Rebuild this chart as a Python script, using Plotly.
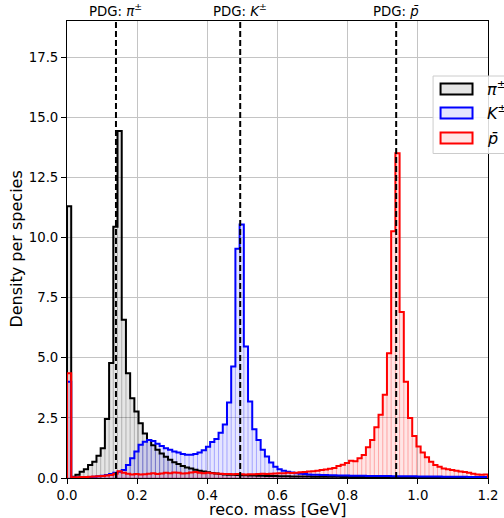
import numpy as np
import plotly.graph_objects as go

# ---- data (density per species, 100 bins over 0..1.2 GeV) ----
bin_range = (0.0, 1.2)
n_bins = 100

pion = [11.3, 0.05, 0.13, 0.26, 0.36, 0.54, 0.68, 0.92, 1.24, 2.45,
        4.78, 10.45, 14.43, 6.58, 4.36, 3.32, 2.76, 2.28, 1.85, 1.58,
        1.36, 1.17, 1.02, 0.88, 0.76, 0.66, 0.58, 0.50, 0.44, 0.39,
        0.34, 0.30, 0.27, 0.24, 0.21, 0.19, 0.17, 0.15, 0.14, 0.13,
        0.12, 0.11, 0.11, 0.10, 0.10, 0.09, 0.09, 0.08, 0.08, 0.08,
        0.07, 0.07, 0.07, 0.06, 0.06, 0.06, 0.06, 0.06, 0.05, 0.05,
        0.05, 0.05, 0.05, 0.05, 0.05, 0.04, 0.04, 0.04, 0.04, 0.04,
        0.04, 0.04, 0.04, 0.04, 0.03, 0.03, 0.03, 0.03, 0.03, 0.03,
        0.03, 0.03, 0.03, 0.03, 0.03, 0.03, 0.02, 0.02, 0.02, 0.02,
        0.02, 0.02, 0.02, 0.02, 0.02, 0.02, 0.02, 0.02, 0.02, 0.02]

kaon = [4.0, 0.02, 0.02, 0.03, 0.03, 0.04, 0.05, 0.07, 0.09, 0.12,
        0.17, 0.22, 0.26, 0.33, 0.54, 0.82, 1.10, 1.38, 1.51, 1.58,
        1.54, 1.42, 1.33, 1.24, 1.17, 1.10, 1.06, 1.00, 0.97, 0.97,
        1.00, 1.06, 1.15, 1.30, 1.50, 1.62, 1.88, 2.22, 3.14, 4.64,
        9.53, 10.54, 5.47, 3.18, 2.03, 1.58, 1.17, 0.89, 0.64, 0.47,
        0.36, 0.30, 0.26, 0.23, 0.20, 0.18, 0.17, 0.15, 0.14, 0.13,
        0.12, 0.12, 0.11, 0.11, 0.10, 0.10, 0.10, 0.09, 0.09, 0.09,
        0.09, 0.08, 0.08, 0.08, 0.08, 0.08, 0.08, 0.07, 0.07, 0.07,
        0.07, 0.07, 0.07, 0.06, 0.06, 0.06, 0.06, 0.06, 0.06, 0.05,
        0.05, 0.05, 0.05, 0.05, 0.05, 0.04, 0.04, 0.04, 0.04, 0.04]

proton = [4.35, 0.03, 0.03, 0.04, 0.04, 0.05, 0.06, 0.07, 0.08, 0.10,
          0.12, 0.18, 0.28, 0.22, 0.18, 0.15, 0.17, 0.15, 0.16, 0.18,
          0.20, 0.17, 0.19, 0.22, 0.20, 0.23, 0.22, 0.19, 0.20, 0.23,
          0.25, 0.22, 0.20, 0.22, 0.20, 0.19, 0.18, 0.17, 0.17, 0.16,
          0.17, 0.16, 0.15, 0.16, 0.16, 0.17, 0.18, 0.17, 0.18, 0.19,
          0.20, 0.20, 0.22, 0.21, 0.22, 0.24, 0.25, 0.27, 0.28, 0.30,
          0.33, 0.35, 0.38, 0.42, 0.50, 0.55, 0.62, 0.72, 0.70, 0.82,
          0.96, 1.28, 1.58, 2.11, 2.63, 3.46, 5.19, 10.26, 13.5, 6.9,
          4.0, 2.49, 1.75, 1.31, 1.06, 0.86, 0.68, 0.54, 0.47, 0.40,
          0.36, 0.33, 0.30, 0.27, 0.25, 0.22, 0.18, 0.15, 0.14, 0.15]

pdg_masses = [0.13957, 0.493677, 0.938272]
pdg_labels = ["PDG: <i>π</i><sup>±</sup>", "PDG: <i>K</i><sup>±</sup>", "PDG: <i>p̄</i>"]
legend_labels = ["<i>π</i><sup>±</sup>", "<i>K</i><sup>±</sup>", "<i>p̄</i>"]
series = [pion, kaon, proton]
line_colors = ["#000000", "#0000ff", "#ff0000"]
fill_colors = ["rgba(0,0,0,0.10)", "rgba(0,0,255,0.10)", "rgba(255,0,0,0.10)"]
edge_colors = ["rgba(0,0,0,0.12)", "rgba(0,0,255,0.15)", "rgba(255,0,0,0.15)"]

x_ticks = [0.0, 0.2, 0.4, 0.6, 0.8, 1.0, 1.2]
y_ticks = [0.0, 2.5, 5.0, 7.5, 10.0, 12.5, 15.0, 17.5]

# ---- figure geometry (pixels) ----
W, H = 504, 518
L, R, T, B = 67, 488.5, 21, 478

def px(xp):
    return (xp - L) / (R - L)

def py(yp):
    return (B - yp) / (B - T)

edges = np.linspace(bin_range[0], bin_range[1], n_bins + 1)
centers = 0.5 * (edges[:-1] + edges[1:])
bw = edges[1] - edges[0]

fig = go.Figure()
for vals, lc, fc, ec in zip(series, line_colors, fill_colors, edge_colors):
    vals = np.asarray(vals)
    fig.add_trace(go.Bar(x=centers, y=vals, width=bw,
                         marker=dict(color=fc, line=dict(color=ec, width=1)),
                         showlegend=False, hoverinfo="skip"))
    fig.add_trace(go.Scatter(x=np.concatenate([[edges[0]], edges]),
                             y=np.concatenate([[0.0], vals, [0.0]]),
                             mode="lines", line=dict(color=lc, width=2, shape="hv"),
                             showlegend=False, hoverinfo="skip"))

shapes = []
annotations = []
font = "DejaVu Sans"
for m, lab in zip(pdg_masses, pdg_labels):
    shapes.append(dict(type="line", xref="x", yref="paper", x0=m, x1=m, y0=0, y1=1,
                       line=dict(color="black", width=2, dash="6px,3px"), layer="above"))
    annotations.append(dict(x=m, y=1, xref="x", yref="paper", text=lab, showarrow=False,
                            yanchor="bottom", xanchor="center", yshift=0,
                            font=dict(family=font, size=13.3, color="black")))

# legend (drawn manually, matplotlib style)
shapes.append(dict(type="rect", xref="paper", yref="paper",
                   x0=px(433.5), x1=px(515), y0=py(153.5), y1=py(76),
                   fillcolor="rgba(255,255,255,0.85)", line=dict(color="#cccccc", width=1),
                   layer="above"))
row_y = [89, 113, 138]
for yy, lc, fc, lab in zip(row_y, line_colors, fill_colors, legend_labels):
    shapes.append(dict(type="rect", xref="paper", yref="paper",
                       x0=px(441), x1=px(473), y0=py(yy + 5.5), y1=py(yy - 5.5),
                       fillcolor=fc, line=dict(color=lc, width=2), layer="above"))
    annotations.append(dict(x=px(485), y=py(yy), xref="paper", yref="paper", text=lab,
                            showarrow=False, xanchor="left", yanchor="middle",
                            font=dict(family=font, size=16, color="black")))

annotations.append(dict(x=0.5, y=py(509.5), xref="paper", yref="paper", text="reco. mass [GeV]",
                        showarrow=False, xanchor="center", yanchor="middle",
                        font=dict(family=font, size=16, color="black")))
annotations.append(dict(x=px(16), y=0.5, xref="paper", yref="paper", text="Density per species",
                        showarrow=False, xanchor="center", yanchor="middle", textangle=-90,
                        font=dict(family=font, size=16, color="black")))

axis_common = dict(showline=True, mirror=True, linecolor="black", linewidth=1,
                   showgrid=True, gridcolor="#c4c4c4", gridwidth=1, zeroline=False,
                   ticks="outside", ticklen=5, tickcolor="black", tickwidth=1,
                   tickfont=dict(family=font, size=13.3, color="black"))

fig.update_layout(
    width=W, height=H,
    margin=dict(l=L, r=W - R, t=T, b=H - B, autoexpand=False),
    paper_bgcolor="white", plot_bgcolor="white",
    barmode="overlay", bargap=0,
    showlegend=False,
    shapes=shapes, annotations=annotations,
    xaxis=dict(range=[0, 1.2], tickvals=x_ticks, ticktext=[f"{v:.1f}" for v in x_ticks], **axis_common),
    yaxis=dict(range=[0, 19], tickvals=y_ticks, ticktext=[f"{v:.1f}" for v in y_ticks], **axis_common),
)

fig.write_html("out.html", config={"displayModeBar": False, "staticPlot": True},
               post_script="document.body.style.margin='0';document.body.style.overflow='hidden';")
